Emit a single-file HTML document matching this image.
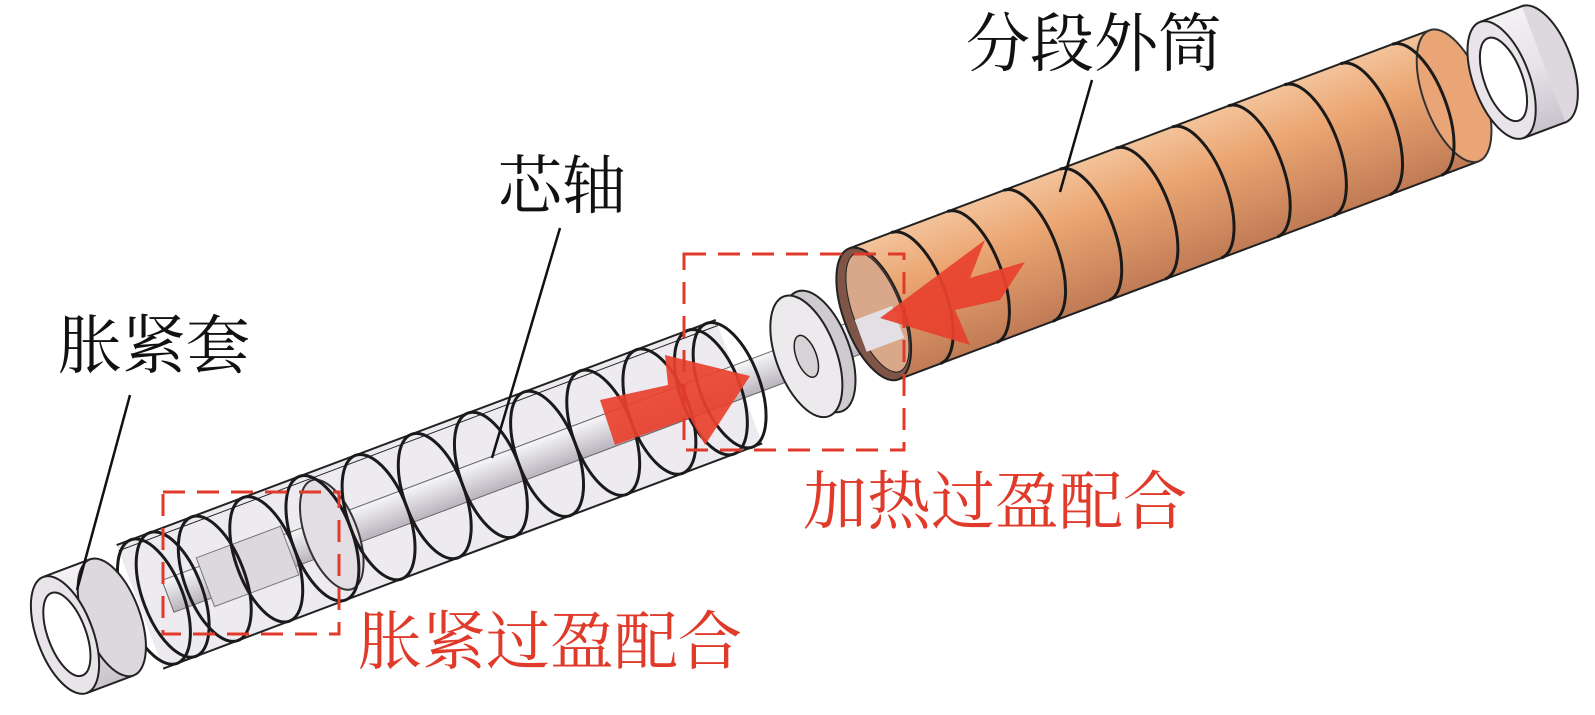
<!DOCTYPE html>
<html><head><meta charset="utf-8"><style>
html,body{margin:0;padding:0;background:#fff;}
svg{display:block}
text{font-family:"Liberation Serif","Noto Serif CJK SC",serif;}
</style></head><body>
<svg width="1595" height="715" viewBox="0 0 1595 715" xmlns="http://www.w3.org/2000/svg">
<defs>
<linearGradient id="org" x1="0" y1="0" x2="0" y2="1">
<stop offset="0" stop-color="#f3c39a"/><stop offset="0.35" stop-color="#eba673"/><stop offset="1" stop-color="#c07b55"/>
</linearGradient>
<linearGradient id="gry" x1="0" y1="0" x2="0" y2="1">
<stop offset="0" stop-color="#f4f2f4"/><stop offset="0.5" stop-color="#e6e2e8"/><stop offset="1" stop-color="#c9c3cb"/>
</linearGradient>
<linearGradient id="sh" x1="0" y1="0" x2="0" y2="1">
<stop offset="0" stop-color="#f7f7f9"/><stop offset="1" stop-color="#b9b3bc"/>
</linearGradient>
</defs>
<g transform="translate(65,635) rotate(-20.6)" stroke="#222" stroke-width="2">
<rect x="80" y="-66" width="640" height="132" fill="#eeebf0" stroke="none"/>
<line x1="80" y1="-66" x2="720" y2="-66"/>
<line x1="80" y1="66" x2="720" y2="66"/>
<line x1="80" y1="-60" x2="720" y2="-60" stroke-width="1"/>
<rect x="110" y="-17" width="770" height="34" fill="url(#sh)" stroke="#666" stroke-width="1"/>
<rect x="150" y="-26" width="90" height="52" fill="#ddd8de" stroke="#777" stroke-width="1"/>
<ellipse cx="285" cy="0" rx="26" ry="58" fill="#e2dee4" stroke="#333"/>
<g fill="none" stroke="#1a1a1a" stroke-width="3">
<ellipse cx="95" cy="0" rx="30" ry="66"/>
<ellipse cx="115" cy="0" rx="30" ry="66"/>
<ellipse cx="160" cy="0" rx="30" ry="66"/>
<ellipse cx="215" cy="0" rx="30" ry="66"/>
<ellipse cx="275" cy="0" rx="30" ry="66"/>
<ellipse cx="335" cy="0" rx="30" ry="66"/>
<ellipse cx="395" cy="0" rx="30" ry="66"/>
<ellipse cx="455" cy="0" rx="30" ry="66"/>
<ellipse cx="515" cy="0" rx="30" ry="66"/>
<ellipse cx="575" cy="0" rx="30" ry="66"/>
<ellipse cx="635" cy="0" rx="30" ry="66"/>
<ellipse cx="690" cy="0" rx="30" ry="66"/>
<ellipse cx="710" cy="0" rx="30" ry="66"/>
</g>
<rect x="792" y="-64" width="14" height="128" fill="#d8d4d8" stroke="none"/>
<ellipse cx="806" cy="0" rx="30" ry="64" fill="#cfcacf"/>
<ellipse cx="792" cy="0" rx="30" ry="64" fill="#eceaec"/>
<ellipse cx="792" cy="0" rx="10" ry="22" fill="#d6d2d6" stroke-width="1.5"/>
<rect x="870" y="-86" width="620" height="140" fill="url(#org)" stroke="none"/>
<line x1="870" y1="-86" x2="1490" y2="-86"/>
<line x1="870" y1="54" x2="1490" y2="54"/>
<ellipse cx="1490" cy="-16" rx="30" ry="70" fill="#e9a575" stroke="#333"/>
<ellipse cx="870" cy="-16" rx="30" ry="70" fill="#7e5546"/>
<ellipse cx="874" cy="-16" rx="24" ry="63" fill="#d9a88a" stroke-width="1"/>
<rect x="850" y="-17" width="40" height="34" fill="#e4dfe4" stroke="none"/>
<g fill="none" stroke="#1a1a1a" stroke-width="3">
<path d="M915,-86 A30 70 0 0 1 915,54"/>
<path d="M975,-86 A30 70 0 0 1 975,54"/>
<path d="M1035,-86 A30 70 0 0 1 1035,54"/>
<path d="M1095,-86 A30 70 0 0 1 1095,54"/>
<path d="M1155,-86 A30 70 0 0 1 1155,54"/>
<path d="M1215,-86 A30 70 0 0 1 1215,54"/>
<path d="M1275,-86 A30 70 0 0 1 1275,54"/>
<path d="M1335,-86 A30 70 0 0 1 1335,54"/>
<path d="M1395,-86 A30 70 0 0 1 1395,54"/>
<path d="M1450,-86 A30 70 0 0 1 1450,54"/>
</g>
<rect x="0" y="-62" width="50" height="124" fill="url(#gry)" stroke="none"/>
<line x1="0" y1="-62" x2="50" y2="-62"/>
<line x1="0" y1="62" x2="50" y2="62"/>
<ellipse cx="50" cy="0" rx="28" ry="62" fill="#ddd8de"/>
<ellipse cx="0" cy="0" rx="28" ry="62" fill="#e8e4ea"/>
<ellipse cx="2" cy="0" rx="19" ry="44" fill="#fff"/>
<ellipse cx="1585" cy="-14" rx="28" ry="62" fill="#ddd8de"/>
<rect x="1540" y="-76" width="45" height="124" fill="url(#gry)" stroke="none"/>
<line x1="1540" y1="-76" x2="1585" y2="-76"/>
<line x1="1540" y1="48" x2="1585" y2="48"/>
<ellipse cx="1540" cy="-14" rx="28" ry="62" fill="#e8e4ea"/>
<ellipse cx="1542" cy="-14" rx="19" ry="44" fill="#fff"/>
</g>
<polygon points="600,400 668,385 665,355 750,376 705,445 690,418 615,445" fill="#e8412c" opacity="0.92"/>
<polygon points="1025,262 970,278 985,240 880,318 970,345 955,310 1000,300" fill="#e8412c" opacity="0.92"/>
<g fill="none" stroke="#e03a2a" stroke-width="3" stroke-dasharray="22,12">
<rect x="163" y="492" width="176" height="142"/>
<rect x="684" y="254" width="220" height="196"/>
</g>
<g stroke="#111" stroke-width="2.5">
<line x1="1092" y1="80" x2="1060" y2="192"/>
<line x1="560" y1="228" x2="492" y2="458"/>
<line x1="130" y1="395" x2="77" y2="590"/>
</g>
<g font-size="64" fill="#111">
<text x="966" y="66">分段外筒</text>
<text x="498" y="208">芯轴</text>
<text x="58" y="368">胀紧套</text>
</g>
<g font-size="64" fill="#e03a2a">
<text x="803" y="524">加热过盈配合</text>
<text x="358" y="664">胀紧过盈配合</text>
</g>
</svg>
</body></html>
